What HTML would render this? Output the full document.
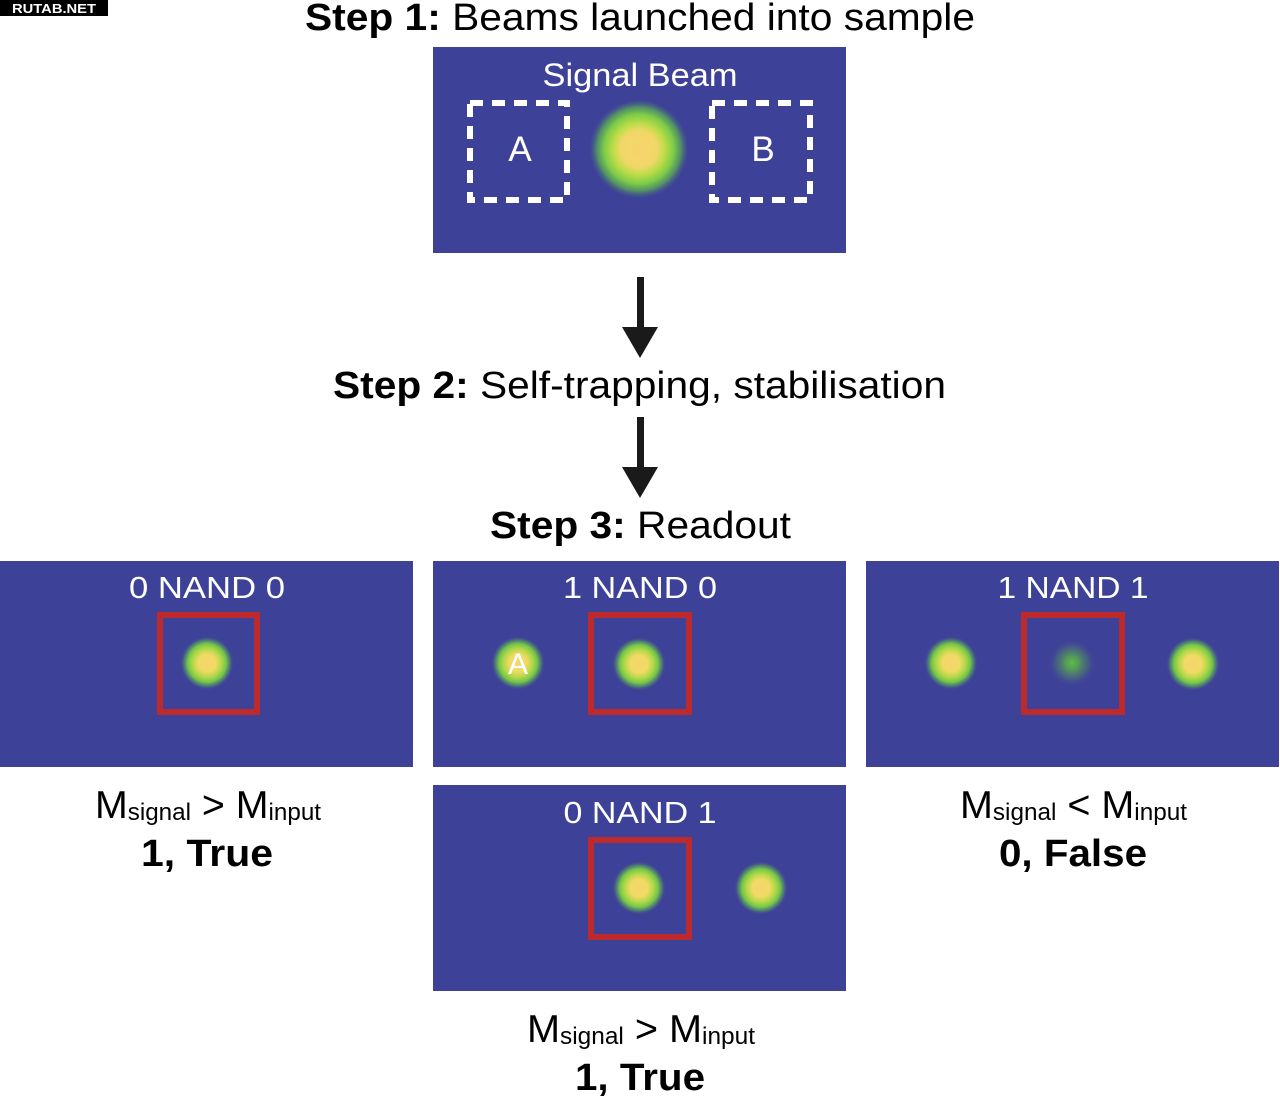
<!DOCTYPE html>
<html><head><meta charset="utf-8"><style>
html,body{margin:0;padding:0;background:#fff;}
svg{display:block;}
text{font-family:"Liberation Sans",Arial,sans-serif;}
</style></head><body>
<svg width="1280" height="1098" viewBox="0 0 1280 1098" xmlns="http://www.w3.org/2000/svg">
<defs>
<radialGradient id="big" cx="50%" cy="50%" r="50%">
<stop offset="0%" stop-color="#f6d46c"/>
<stop offset="36%" stop-color="#f2d768"/>
<stop offset="52%" stop-color="#bcdc48"/>
<stop offset="70%" stop-color="#7ccb48"/>
<stop offset="84%" stop-color="#58a45a" stop-opacity="0.8"/>
<stop offset="94%" stop-color="#476a80" stop-opacity="0.4"/>
<stop offset="100%" stop-color="#3e4198" stop-opacity="0"/>
</radialGradient>
<radialGradient id="sm" cx="50%" cy="50%" r="50%">
<stop offset="0%" stop-color="#f6d46c"/>
<stop offset="32%" stop-color="#f0da64"/>
<stop offset="54%" stop-color="#b0d848"/>
<stop offset="72%" stop-color="#72c44a"/>
<stop offset="86%" stop-color="#52906a" stop-opacity="0.65"/>
<stop offset="100%" stop-color="#3e4198" stop-opacity="0"/>
</radialGradient>
<radialGradient id="dim" cx="50%" cy="50%" r="50%">
<stop offset="0%" stop-color="#5cbc48"/>
<stop offset="30%" stop-color="#58a650" stop-opacity="0.85"/>
<stop offset="65%" stop-color="#50806e" stop-opacity="0.5"/>
<stop offset="100%" stop-color="#3e4198" stop-opacity="0"/>
</radialGradient>
</defs>

<!-- watermark -->
<rect x="0" y="0" width="108" height="16" fill="#000"/>
<text x="54" y="13" fill="#fff" font-size="13" font-weight="bold" text-anchor="middle" textLength="84" lengthAdjust="spacingAndGlyphs">RUTAB.NET</text>

<!-- Step 1 -->
<text x="305" y="30" font-size="38" fill="#000" textLength="670" lengthAdjust="spacingAndGlyphs"><tspan font-weight="bold">Step 1:</tspan> Beams launched into sample</text>

<!-- top panel -->
<rect x="433" y="47" width="413" height="206" fill="#3e4198"/>
<text x="640" y="86" font-size="32" fill="#fff" text-anchor="middle" textLength="195" lengthAdjust="spacingAndGlyphs">Signal Beam</text>
<rect x="470" y="103" width="97" height="97" fill="none" stroke="#fff" stroke-width="6" stroke-dasharray="13 9"/>
<rect x="712" y="103" width="98" height="97" fill="none" stroke="#fff" stroke-width="6" stroke-dasharray="13 9"/>
<text x="520" y="161" font-size="35" fill="#fff" text-anchor="middle">A</text>
<text x="763" y="161" font-size="35" fill="#fff" text-anchor="middle">B</text>
<circle cx="639" cy="149" r="50" fill="url(#big)"/>

<!-- arrow 1 -->
<rect x="637" y="277" width="7" height="53" fill="#1a1a1a"/>
<polygon points="622,327 658,327 640,358" fill="#1a1a1a"/>

<!-- Step 2 -->
<text x="333" y="398" font-size="38" fill="#000" textLength="613" lengthAdjust="spacingAndGlyphs"><tspan font-weight="bold">Step 2:</tspan> Self-trapping, stabilisation</text>

<!-- arrow 2 -->
<rect x="637" y="417" width="7" height="53" fill="#1a1a1a"/>
<polygon points="622,467 658,467 640,498" fill="#1a1a1a"/>

<!-- Step 3 -->
<text x="490" y="538" font-size="38" fill="#000" textLength="301" lengthAdjust="spacingAndGlyphs"><tspan font-weight="bold">Step 3:</tspan> Readout</text>

<!-- panel 0 NAND 0 -->
<rect x="0" y="561" width="413" height="206" fill="#3e4198"/>
<text x="207" y="598" font-size="31" fill="#fff" text-anchor="middle" textLength="156" lengthAdjust="spacingAndGlyphs">0 NAND 0</text>
<rect x="160" y="615" width="97" height="97" fill="none" stroke="#bd2a2c" stroke-width="6"/>
<circle cx="207" cy="663" r="27" fill="url(#sm)"/>

<!-- panel 1 NAND 0 -->
<rect x="433" y="561" width="413" height="206" fill="#3e4198"/>
<text x="640" y="598" font-size="31" fill="#fff" text-anchor="middle" textLength="154" lengthAdjust="spacingAndGlyphs">1 NAND 0</text>
<rect x="591" y="615" width="98" height="97" fill="none" stroke="#bd2a2c" stroke-width="6"/>
<circle cx="518" cy="663" r="27" fill="url(#sm)"/>
<text x="518" y="674" font-size="30" fill="#fff" text-anchor="middle">A</text>
<circle cx="639" cy="664" r="27" fill="url(#sm)"/>

<!-- panel 1 NAND 1 -->
<rect x="866" y="561" width="413" height="206" fill="#3e4198"/>
<text x="1073" y="598" font-size="31" fill="#fff" text-anchor="middle" textLength="151" lengthAdjust="spacingAndGlyphs">1 NAND 1</text>
<rect x="1024" y="615" width="98" height="97" fill="none" stroke="#bd2a2c" stroke-width="6"/>
<circle cx="951" cy="663" r="27" fill="url(#sm)"/>
<circle cx="1072" cy="663" r="24" fill="url(#dim)"/>
<circle cx="1193" cy="664" r="27" fill="url(#sm)"/>

<!-- panel 0 NAND 1 -->
<rect x="433" y="785" width="413" height="206" fill="#3e4198"/>
<text x="640" y="823" font-size="31" fill="#fff" text-anchor="middle" textLength="153" lengthAdjust="spacingAndGlyphs">0 NAND 1</text>
<rect x="591" y="840" width="98" height="97" fill="none" stroke="#bd2a2c" stroke-width="6"/>
<circle cx="639" cy="888" r="27" fill="url(#sm)"/>
<circle cx="761" cy="888" r="27" fill="url(#sm)"/>

<!-- labels left -->
<text x="95" y="818" font-size="39" fill="#000" textLength="226" lengthAdjust="spacingAndGlyphs">M<tspan font-size="24" dy="2">signal</tspan><tspan dy="-2"> &gt; M</tspan><tspan font-size="24" dy="2">input</tspan></text>
<text x="207" y="866" font-size="38" font-weight="bold" fill="#000" text-anchor="middle" textLength="132" lengthAdjust="spacingAndGlyphs">1, True</text>

<!-- labels right -->
<text x="960" y="818" font-size="39" fill="#000" textLength="227" lengthAdjust="spacingAndGlyphs">M<tspan font-size="24" dy="2">signal</tspan><tspan dy="-2"> &lt; M</tspan><tspan font-size="24" dy="2">input</tspan></text>
<text x="1073" y="866" font-size="38" font-weight="bold" fill="#000" text-anchor="middle" textLength="148" lengthAdjust="spacingAndGlyphs">0, False</text>

<!-- labels bottom -->
<text x="527" y="1042" font-size="39" fill="#000" textLength="228" lengthAdjust="spacingAndGlyphs">M<tspan font-size="24" dy="2">signal</tspan><tspan dy="-2"> &gt; M</tspan><tspan font-size="24" dy="2">input</tspan></text>
<text x="640" y="1090" font-size="38" font-weight="bold" fill="#000" text-anchor="middle" textLength="130" lengthAdjust="spacingAndGlyphs">1, True</text>
</svg>
</body></html>
